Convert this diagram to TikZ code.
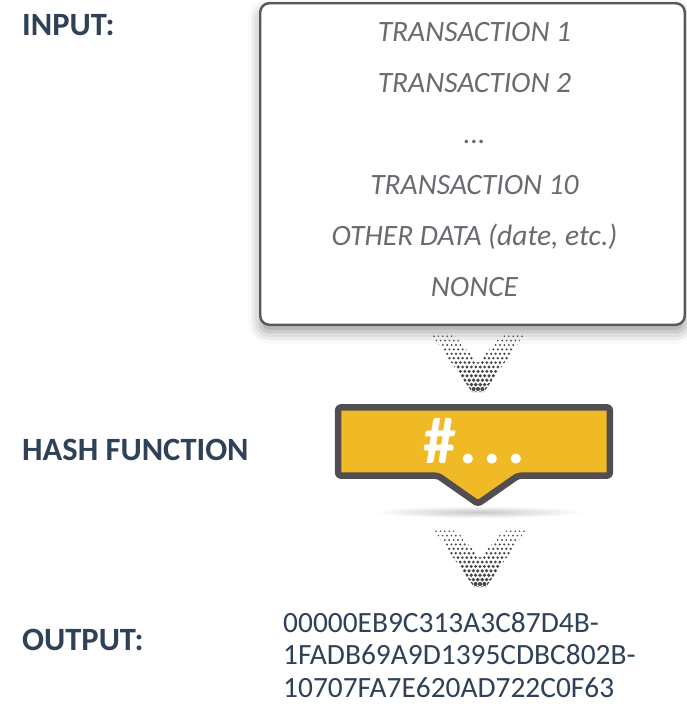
\documentclass[tikz,border=0pt]{standalone}
\usepackage{fontspec}
\setmainfont{Carlito}
\usepackage{xcolor}
\usetikzlibrary{positioning,calc,backgrounds,shadows.blur}
\definecolor{labelblue}{RGB}{47,65,86}
\definecolor{itemgray}{RGB}{104,107,112}
\definecolor{frame}{RGB}{88,88,88}
\definecolor{hashyellow}{RGB}{240,186,38}
\definecolor{hashframe}{RGB}{82,77,80}
\definecolor{dotgray}{RGB}{70,70,70}
\tikzset{
  lbl/.style={font=\fontsize{32.5}{38}\selectfont\bfseries, text=labelblue,
              inner sep=0pt, anchor=base west},
  inbox/.style={rectangle, draw=frame, line width=2.4pt, rounded corners=9pt,
                fill=white, minimum width=424.5pt, minimum height=321.5pt,
                blur shadow={shadow xshift=0pt, shadow yshift=-7pt,
                             shadow blur radius=12pt, shadow opacity=40}},
  items/.style={align=center, text=itemgray, inner sep=0pt,
                font=\fontsize{29.5}{51}\selectfont\itshape},
  hashbox/.style={fill=hashyellow, draw=hashframe, line width=6.5pt,
                  line join=round, rounded corners=3pt},
  hashsym/.style={font=\fontsize{66}{66}\selectfont\bfseries, text=white,
                  minimum width=271.5pt, minimum height=68pt, inner sep=0pt},
  digest/.style={font=\fontsize{29.4}{32.5}\selectfont, text=labelblue,
                 align=left, inner sep=0pt, anchor=west},
  htdot/.style={fill=dotgray},
}
% dotted chevron, #1 = its top middle
\newcommand\halftone[1]{%
  \begin{scope}[shift={(#1)}]
    \clip (-46,0) -- (-24,0) -- (0,28) -- (24,0) -- (46,0) -- (6,57) -- (-6,57) -- cycle;
    \foreach \r in {0,...,13}{
      \foreach \c in {-11,...,11}{
        \pgfmathsetmacro\rad{0.85+0.1*\r}
        \fill[htdot] ({\c*4.4+mod(\r,2)*2.2},{\r*4.4+1.2}) circle[radius=\rad pt];
      }}
  \end{scope}}

\begin{document}
\begin{tikzpicture}[x=1pt,y=-1pt]
\useasboundingbox (0,0) rectangle (687,707);

\node[lbl] (inlbl) at (22,35) {INPUT:};
\node[inbox] (input) at (472.5,164) {};
\node[items] (list) at ($(input.center)+(2,-4)$)
  {TRANSACTION 1\\TRANSACTION 2\\...\\TRANSACTION 10\\OTHER DATA (date, etc.)\\NONCE};

\coordinate (v1) at (478,335);
\halftone{v1}

% hash block with its pointer
\node[lbl] (hashlbl) at (22,460) {HASH FUNCTION};
\node[hashsym] (hash) at (474,441.5) {\#\kern4pt.\kern6pt.\kern6pt.};
\begin{scope}[on background layer]
  \shade[inner color=black!22, outer color=white] (479,512) ellipse [x radius=106, y radius=6];
  \draw[hashbox] (hash.north west) -- (hash.north east) -- (hash.south east)
    -- ($(hash.south)+(44,0)$) -- ($(hash.south)+(4,28)$) -- ($(hash.south)+(-36,0)$)
    -- (hash.south west) -- cycle;
\end{scope}

\coordinate (v2) at (480,530);
\halftone{v2}

\node[lbl] (outlbl) at (22,650) {OUTPUT:};
\node[digest] (digest) at (283,655)
  {00000EB9C313A3C87D4B-\\1FADB69A9D1395CDBC802B-\\10707FA7E620AD722C0F63};
\end{tikzpicture}
\end{document}
